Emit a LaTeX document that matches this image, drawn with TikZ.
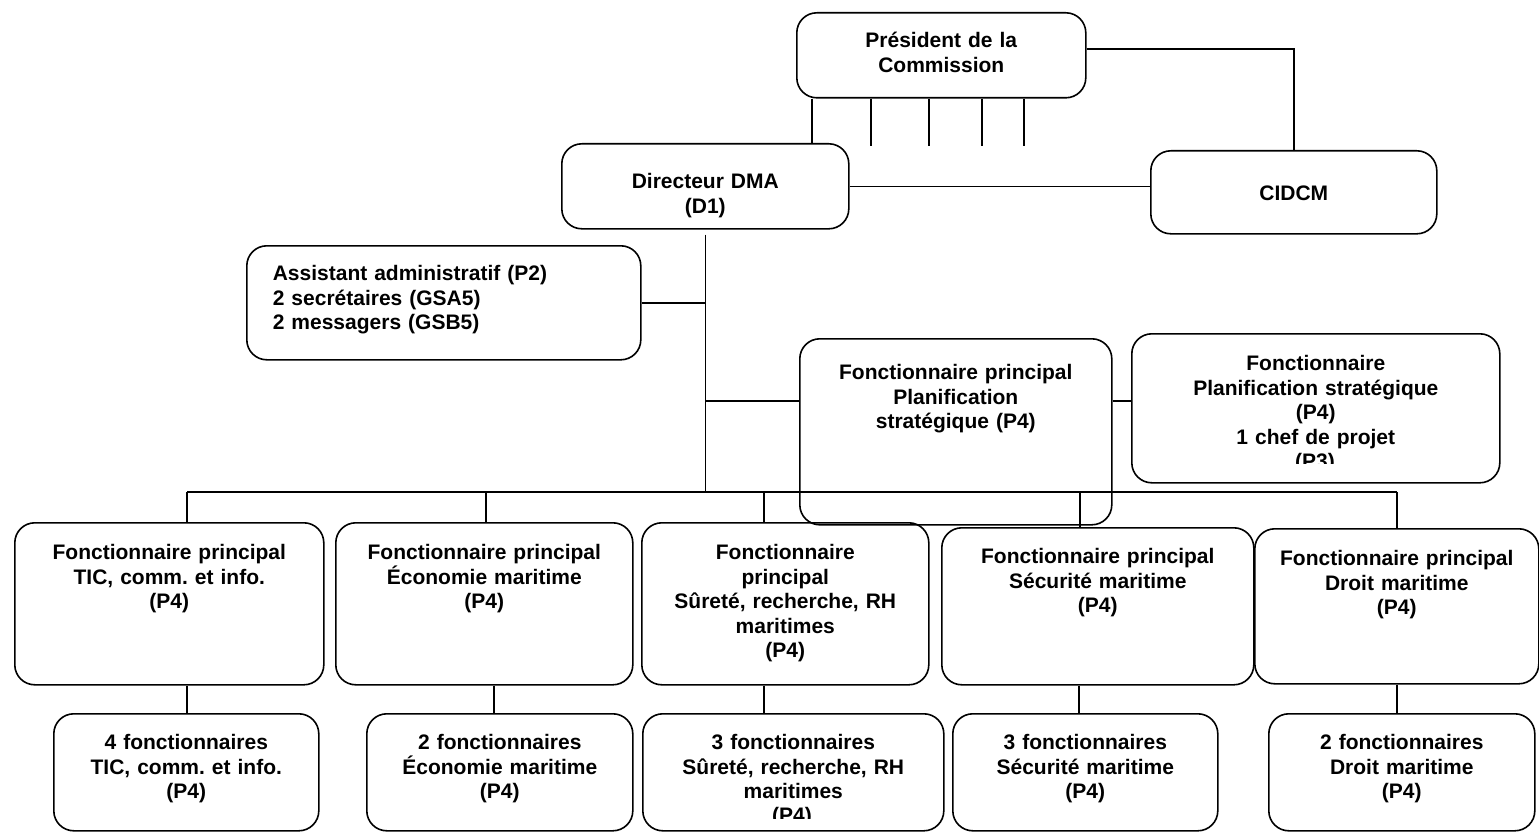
\documentclass[tikz,border=0pt]{standalone}
\usepackage{fontspec}
\setmainfont{Liberation Sans}

\begin{document}
\frenchspacing
\begin{tikzpicture}[x=1pt,y=-1pt,line width=1.6pt,
        box/.style={draw,rounded corners=20pt,inner sep=0pt,align=center,anchor=north west,
          font=\fontsize{21}{24.5}\selectfont\bfseries},
        cut/.style={anchor=base,inner sep=0pt,font=\fontsize{21}{24.5}\selectfont\bfseries}]

  \useasboundingbox (0,0) rectangle (1539,832);

  % direction
  \node[box,text width=289pt,text height=35pt,text depth=50pt] (pres) at (796,12) {Président de la\\Commission};
  \node[box,text width=287pt,text height=45pt,text depth=40pt] (dir) at (561,143) {Directeur DMA\\(D1)};
  \node[box,text width=286pt,text height=50pt,text depth=33pt] (cidcm) at (1150,150) {CIDCM};
  \node[box,align=left,inner xsep=26pt,text width=342pt,text height=35pt,text depth=79pt] (asst) at (246,245)
    {Assistant administratif (P2)\\2 secrétaires (GSA5)\\2 messagers (GSB5)};
  \node[box,text width=312pt,text height=41pt,text depth=145pt] (planif) at (799,338)
    {Fonctionnaire principal\\Planification\\stratégique (P4)};
  \node[box,text width=368pt,text height=37pt,text depth=112pt] (fonct) at (1131,333)
    {Fonctionnaire\\Planification stratégique\\(P4)\\1 chef de projet};
  \begin{scope}
    \clip (1131,333) rectangle (1499,463);
    \node[cut] (p3) at (1315,468) {(P3)};
  \end{scope}

  % fonctionnaires principaux
  \node[box,text width=309pt,text height=37pt,text depth=125pt] (tic) at (14,522)
    {Fonctionnaire principal\\TIC, comm. et info.\\(P4)};
  \node[box,text width=297pt,text height=37pt,text depth=125pt] (eco) at (335,522)
    {Fonctionnaire principal\\Économie maritime\\(P4)};
  \node[box,text width=287pt,text height=37pt,text depth=125pt] (sur) at (641,522)
    {Fonctionnaire\\principal\\Sûreté, recherche, RH\\maritimes\\(P4)};
  \node[box,text width=312pt,text height=36pt,text depth=121pt] (sec) at (941,527)
    {Fonctionnaire principal\\Sécurité maritime\\(P4)};
  \node[box,text width=284pt,text height=37pt,text depth=118pt] (droit) at (1254,528)
    {Fonctionnaire principal\\Droit maritime\\(P4)};

  % fonctionnaires
  \node[box,text width=265pt,text height=36pt,text depth=81pt] (tic2) at (53,713)
    {4 fonctionnaires\\TIC, comm. et info.\\(P4)};
  \node[box,text width=266pt,text height=36pt,text depth=81pt] (eco2) at (366,713)
    {2 fonctionnaires\\Économie maritime\\(P4)};
  \node[box,text width=301pt,text height=36pt,text depth=81pt] (sur2) at (642,713)
    {3 fonctionnaires\\Sûreté, recherche, RH\\maritimes};
  \begin{scope}
    \clip (642,713) rectangle (943,818);
    \node[cut] (p4) at (792,822.5) {(P4)};
  \end{scope}
  \node[box,text width=265pt,text height=36pt,text depth=81pt] (sec2) at (952,713)
    {3 fonctionnaires\\Sécurité maritime\\(P4)};
  \node[box,text width=266pt,text height=36pt,text depth=81pt] (droit2) at (1268,713)
    {2 fonctionnaires\\Droit maritime\\(P4)};

  % liaisons
  \draw (812,0 |- pres.south) -- (812,0 |- dir.north);
  \foreach \x in {871,929,982,1024}
    \draw (\x,0 |- pres.south) -- ++(0,47);
  \draw ([yshift=6pt]pres.east) -| (cidcm.north);
  \draw (dir.east) -- (dir.east -| cidcm.west);
  \draw ([yshift=-5pt]dir.south) -- (dir.south |- 0,492) coordinate (trunk);
  \draw (asst.east) -- (asst.east -| trunk);
  \draw ([yshift=31pt]planif.west -| trunk) -- ([yshift=31pt]planif.west);
  \draw ([yshift=31pt]planif.east) -- ([yshift=31pt]planif.east -| fonct.west);
  \draw (187,0 |- trunk) -- (1397,0 |- trunk);
  \foreach \x/\b in {187/tic,486/eco,764/sur,1080/sec,1397/droit}
    \draw (\x,0 |- trunk) -- (\x,0 |- \b.north);
  \foreach \x/\a/\b in {187/tic/tic2,494/eco/eco2,764/sur/sur2,1079/sec/sec2,1397/droit/droit2}
    \draw (\x,0 |- \a.south) -- (\x,0 |- \b.north);

\end{tikzpicture}
\end{document}
